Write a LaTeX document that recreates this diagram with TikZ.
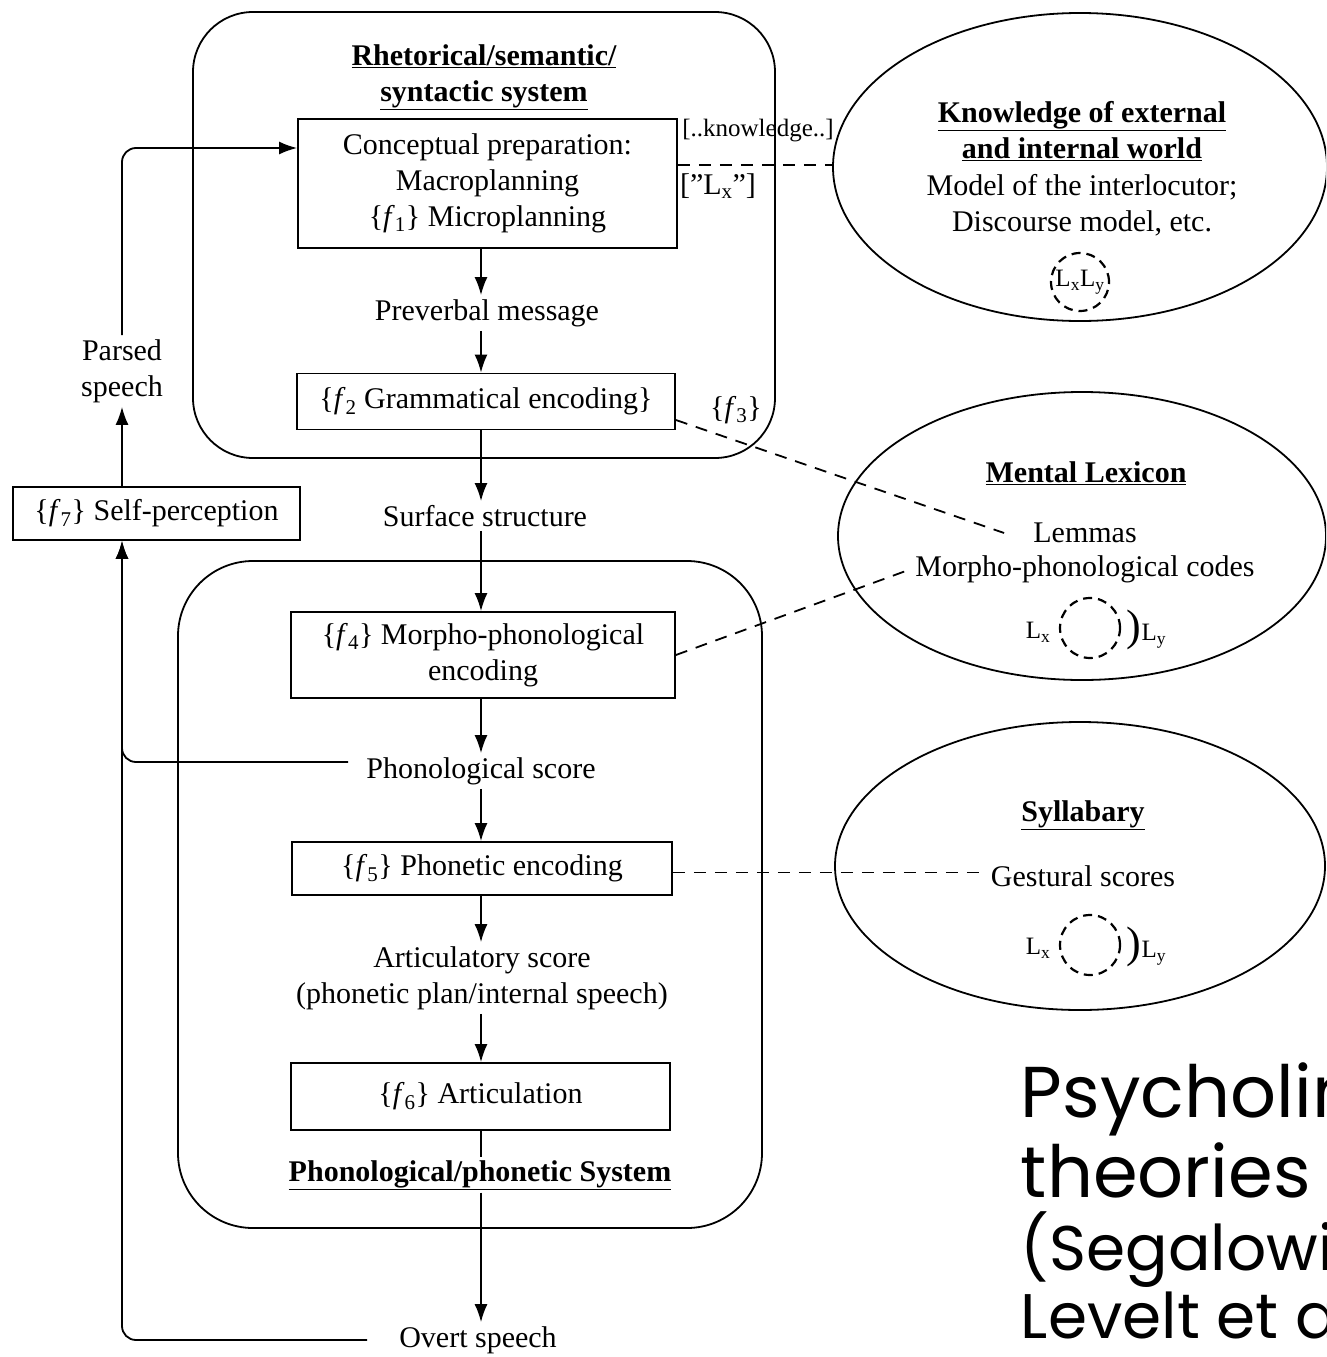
\documentclass[tikz,border=0pt]{standalone}
\usepackage{fontspec}
\setmainfont{Liberation Serif}
\newfontfamily\gothic{Poppins}
\usetikzlibrary{shapes.geometric,arrows.meta,calc}
\begin{document}
\begin{tikzpicture}[x=1pt,y=-1pt, line width=1.8pt,
  font=\fontsize{30}{36}\selectfont,
  box/.style={draw, align=center, inner sep=0pt},
  lbl/.style={align=center},
  ttl/.style={align=center, font=\fontsize{30}{36}\selectfont\bfseries},
  arr/.style={-{Latex[length=18pt,width=13pt]}},
  dline/.style={dash pattern=on 12pt off 9pt},
  sysbox/.style={draw, inner sep=0pt},
  oval/.style={draw, ellipse, inner sep=0pt},
  smalltxt/.style={font=\fontsize{25}{28}\selectfont},
  dcirc/.style={dash pattern=on 9pt off 6pt, line width=2.2pt},
  big/.style={anchor=base west, inner sep=0pt, font=\gothic\fontsize{72}{72}\selectfont},
  bigb/.style={anchor=base west, inner sep=0pt, font=\gothic\fontsize{63}{63}\selectfont},
]
\clip (0,0) rectangle (1326,1357);
\fill[white] (0,0) rectangle (1326,1357);

% containers
\node[sysbox, rounded corners=60pt, minimum width=582pt, minimum height=446pt] (sys1) at (484,235) {};
\node[sysbox, rounded corners=75pt, minimum width=584pt, minimum height=667pt] (sys2) at (470,894.5) {};

% flow column
\coordinate (fx) at (481,0);

% top system
\node[ttl] (t1) at (484,77.5) {\underline{Rhetorical/semantic/}\\\underline{syntactic system}};
\node[box, minimum width=379pt, minimum height=129pt] (box1) at (487.5,183.5)
  {Conceptual preparation:\\Macroplanning\\\{\textit{f}\textsubscript{1}\} Microplanning};
\node[lbl] (pre) at (487,313) {Preverbal message};
\node[box, minimum width=378pt, minimum height=56pt] (box2) at (486,401.5)
  {\{\textit{f}\textsubscript{2} Grammatical encoding\}};
\node[lbl] (f3) at (736,410) {\{\textit{f}\textsubscript{3}\}};
\node[lbl, smalltxt] (kn) at (758,131) {[..knowledge..]};
\node[lbl] (lxq) at (718,186) {["L\textsubscript{x}"]};

\node[lbl] (surf) at (485,516) {Surface structure};

% bottom system
\node[box, minimum width=384pt, minimum height=86pt] (box4) at (483,655)
  {\{\textit{f}\textsubscript{4}\} Morpho-phonological\\encoding};
\node[lbl] (phon) at (481,771) {Phonological score};
\node[box, minimum width=380pt, minimum height=53pt] (box5) at (482,868.5)
  {\{\textit{f}\textsubscript{5}\} Phonetic encoding};
\node[lbl] (artic) at (482,978) {Articulatory score\\(phonetic plan/internal speech)};
\node[box, minimum width=379pt, minimum height=67pt] (box6) at (480.5,1096.5)
  {\{\textit{f}\textsubscript{6}\} Articulation};
\node[ttl, fill=white, inner sep=2pt] (phsys) at (480,1175) {\underline{Phonological/phonetic System}};
\node[lbl] (overt) at (478,1340) {Overt speech};

% left column
\node[lbl] (parsed) at (122,371) {Parsed\\speech};
\node[box, minimum width=287pt, minimum height=53pt] (self) at (156.5,513.5)
  {\{\textit{f}\textsubscript{7}\} Self-perception};

% ellipses
\node[oval, minimum width=494pt, minimum height=308pt] (know) at (1080,167) {};
\node[ttl] (knt) at (1082,131) {\underline{Knowledge of external}\\\underline{and internal world}};
\node[lbl] (model) at (1082,205) {Model of the interlocutor;\\Discourse model, etc.};
\node[lbl, smalltxt, inner sep=0pt] (lxly) at (1080,282) {L\textsubscript{x}L\textsubscript{y}};
\draw[dcirc] (lxly.center) circle[radius=29pt];

\node[oval, minimum width=488pt, minimum height=288pt] (lex) at (1082,536) {};
\node[ttl] (lext) at (1086,473) {\underline{Mental Lexicon}};
\node[lbl] (lemmas) at (1085,533) {Lemmas};
\node[lbl] (mpc) at (1085,569) {Morpho-phonological codes};
\node[lbl, smalltxt] (lx2) at (1038,632) {L\textsubscript{x}};
\coordinate (c2) at (1090,628);
\draw[dcirc] (c2) circle[radius=30pt];
\node[lbl, smalltxt, anchor=west, inner sep=0pt] (ly2) at (1126,630) {{\fontsize{44}{44}\selectfont)}L\textsubscript{y}};

\node[oval, minimum width=490pt, minimum height=288pt] (syl) at (1080,866) {};
\node[ttl] (sylt) at (1083,815) {\underline{Syllabary}};
\node[lbl] (gest) at (1083,876) {Gestural scores};
\node[lbl, smalltxt] (lx3) at (1038,948) {L\textsubscript{x}};
\coordinate (c3) at (1090,945);
\draw[dcirc] (c3) circle[radius=30pt];
\node[lbl, smalltxt, anchor=west, inner sep=0pt] (ly3) at (1126,947) {{\fontsize{44}{44}\selectfont)}L\textsubscript{y}};

% main flow
\draw[arr] (box1.south -| fx) -- (pre.north -| fx);
\draw[arr] (pre.south -| fx) -- (box2.north -| fx);
\draw[arr] (box2.south -| fx) -- (surf.north -| fx);
\draw[arr] (surf.south -| fx) -- (box4.north -| fx);
\draw[arr] (box4.south -| fx) -- (phon.north -| fx);
\draw[arr] (phon.south -| fx) -- (box5.north -| fx);
\draw[arr] (box5.south -| fx) -- (artic.north -| fx);
\draw[arr] (artic.south -| fx) -- (box6.north -| fx);
\draw (box6.south -| fx) -- (phsys.north -| fx);
\draw[arr] (phsys.south -| fx) -- (overt.north -| fx);

% feedback loop
\draw[arr] (self.north -| parsed) -- (parsed.south);
\draw[arr, rounded corners=14pt] (parsed.north) |- ([yshift=35.5pt]box1.west);
\draw[arr, rounded corners=14pt] ([xshift=-14pt,yshift=9pt]phon.west) -| (self.south -| parsed);
\draw[arr, rounded corners=14pt] ([xshift=-28pt]overt.west) -| (self.south -| parsed);

% dashed links to knowledge stores
\draw[dline] ([yshift=18.5pt]box1.east) -- ([yshift=18.5pt]box1.east -| know.west);
\draw[dline] ([yshift=-18.5pt]box2.east) -- ([xshift=-25pt]lemmas.west);
\draw[dline] (box4.east) -- (mpc.west);
\draw[dline] ([yshift=-4pt]box5.east) -- ([yshift=-4pt]box5.east -| gest.west);

% caption
\node[big] (ps1) at (1020,1117) {Psycholinguistic};
\node[big] (ps2) at (1020,1197) {theories};
\node[bigb] (ps3) at (1020,1270) {(Segalowitz};
\node[bigb] (ps4) at (1020,1338) {Levelt et al.};
\end{tikzpicture}
\end{document}
